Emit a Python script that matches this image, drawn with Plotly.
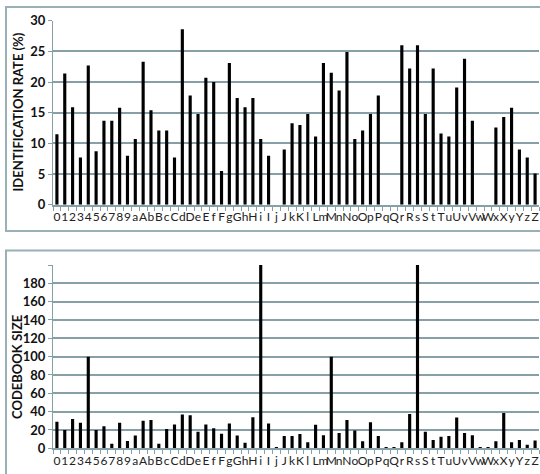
import plotly.graph_objects as go

categories = list("0123456789aAbBcCdDeEfFgGhHiIjJkKlLmMnNoOpPqQrRsStTuUvVwWxXyYzZ")

identification_rate = [
    11.5, 21.4, 15.9, 7.7, 22.7, 8.7, 13.7, 13.7, 15.8, 8.0,
    10.7, 23.3, 15.4, 12.1, 12.1, 7.7, 28.6, 17.8, 14.8, 20.7,
    20.0, 5.5, 23.1, 17.4, 15.9, 17.4, 10.7, 8.0, 0, 9.0,
    13.3, 13.0, 14.8, 11.1, 23.1, 21.5, 18.6, 24.9, 10.7, 12.1,
    14.8, 17.8, 0, 0, 26.0, 22.2, 26.0, 14.8, 22.2, 11.6,
    11.1, 19.1, 23.8, 13.7, 0, 0, 12.6, 14.3, 15.8, 9.0,
    7.7, 5.1,
]

codebook_size = [
    29, 20, 32, 28, 100, 20, 24, 5, 28, 8,
    14, 30, 31, 5, 21, 26, 37, 36, 18, 26,
    22, 16, 27, 14, 6, 34, 200, 27, 1.5, 13.5,
    13.5, 15.6, 6.5, 25.8, 14.2, 100, 16.7, 31, 19.3, 7.6,
    28.4, 13.5, 1.5, 1.5, 6.5, 37.5, 200, 18, 9, 12.7,
    13.5, 33.5, 16.7, 14.2, 1.5, 1.5, 7.6, 38.5, 6.5, 9,
    4, 8.4,
]

top_ticks = [0, 5, 10, 15, 20, 25, 30]
bottom_ticks = [0, 20, 40, 60, 80, 100, 120, 140, 160, 180, 200]
bottom_tick_text = [str(v) for v in bottom_ticks[:-1]] + [""]

GRID = "#87a0a8"
FONT = "Lato"
W, H = 540, 474
L, R = 53, 1

fig = go.Figure()
fig.add_trace(go.Bar(x=categories, y=identification_rate, marker_color="black",
                     marker_line_width=0, xaxis="x", yaxis="y"))
fig.add_trace(go.Bar(x=categories, y=codebook_size, marker_color="black",
                     marker_line_width=0, xaxis="x2", yaxis="y2"))

def ydom(top_px, bot_px):
    return [(H - bot_px) / H, (H - top_px) / H]

xcommon = dict(type="category", tickmode="array", tickvals=categories, ticktext=categories,
               tickangle=0, tickson="boundaries", ticks="outside", ticklen=4,
               tickwidth=1, tickcolor=GRID, showline=True, linecolor=GRID, linewidth=2,
               showgrid=False, tickfont=dict(family=FONT, size=12, color="#222"),
               domain=[0, 1], fixedrange=True, automargin=False,
               range=[-0.5, len(categories) - 0.5])
ycommon = dict(showgrid=True, gridcolor=GRID, gridwidth=2, showline=True, linecolor=GRID,
               linewidth=1, ticks="outside", ticklen=4, tickcolor=GRID,
               tickfont=dict(family=FONT, size=13, color="#111", weight="bold"),
               zeroline=False, automargin=False, fixedrange=True)

fig.update_layout(
    width=W, height=H, autosize=False,
    margin=dict(l=L, r=R, t=0, b=0, pad=0),
    paper_bgcolor="white", plot_bgcolor="white",
    showlegend=False, bargap=0.6,
    xaxis=dict(**xcommon, anchor="y"),
    yaxis=dict(**ycommon, domain=ydom(20.7, 204.7), range=[0, 30], tickvals=top_ticks,
               anchor="x"),
    xaxis2=dict(**xcommon, anchor="y2"),
    yaxis2=dict(**ycommon, domain=ydom(265, 448.3), range=[0, 200], tickvals=bottom_ticks,
                ticktext=bottom_tick_text, anchor="x2"),
)

pw = W - L - R
def px(xp):
    return (xp - L) / pw
def py(yp):
    return (H - yp) / H

# outer frames
fig.add_shape(type="rect", xref="paper", yref="paper", x0=px(6), x1=px(545),
              y0=py(231), y1=py(7), line=dict(color="#9ab0b7", width=2), layer="below")
fig.add_shape(type="rect", xref="paper", yref="paper", x0=px(6), x1=px(545),
              y0=py(480), y1=py(250.5), line=dict(color="#9ab0b7", width=2), layer="below")

fig.add_annotation(text="IDENTIFICATION RATE (%)", xref="paper", yref="paper",
                   x=px(17), y=py(112.5), xanchor="center", yanchor="middle",
                   textangle=-90, showarrow=False,
                   font=dict(family=FONT, size=13, color="#111", weight="bold"))
fig.add_annotation(text="CODEBOOK SIZE", xref="paper", yref="paper",
                   x=px(17), y=py(367), xanchor="center", yanchor="middle",
                   textangle=-90, showarrow=False,
                   font=dict(family=FONT, size=13, color="#111", weight="bold"))

fig.write_html("out.html", config={"displayModeBar": False},
               post_script="document.body.style.margin='0';document.body.style.overflow='hidden';")
